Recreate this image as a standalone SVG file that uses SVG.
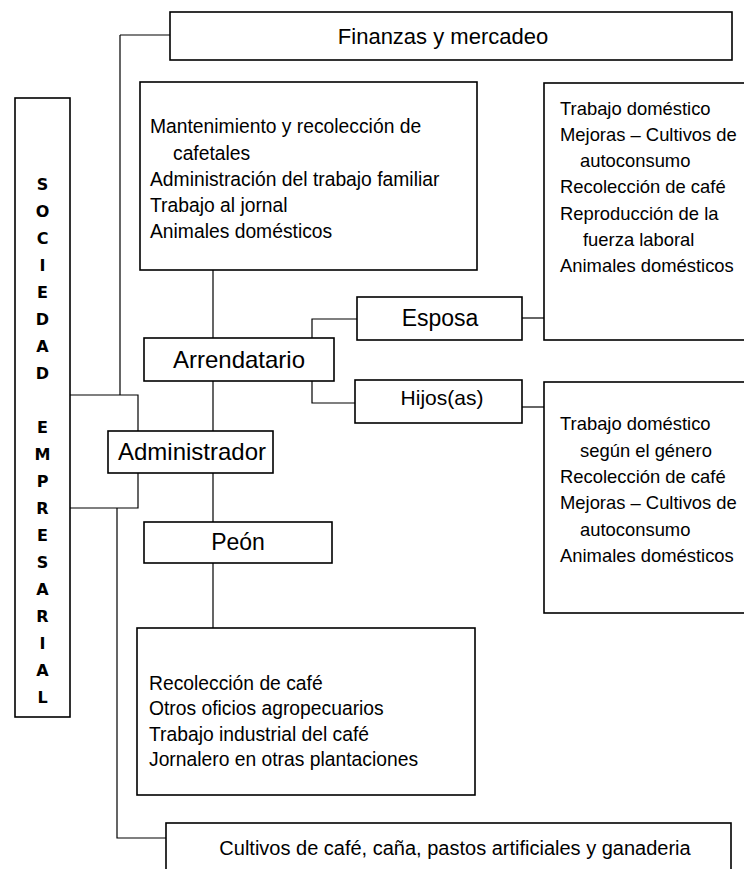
<svg xmlns="http://www.w3.org/2000/svg" width="744" height="869" viewBox="0 0 744 869">
<style>
.box{fill:#fff;stroke:#000;stroke-width:1.6}
.conn{fill:none;stroke:#000;stroke-width:1.2}
.lbl{font-family:"Liberation Sans",Arial,sans-serif;font-size:23px;fill:#000;text-anchor:middle}
.txt{font-family:"Liberation Sans",Arial,sans-serif;font-size:19.3px;fill:#000}
.txr{font-family:"Liberation Sans",Arial,sans-serif;font-size:18.4px;fill:#000}
.vert{font-family:"DejaVu Sans",sans-serif;font-weight:bold;font-size:16px;fill:#000;text-anchor:middle}
</style>
<rect width="744" height="869" fill="#fff"/>
<g id="connectors">
<path class="conn" d="M120,35 H170 M120,35 V395"/>
<path class="conn" d="M70,395 H138 V431"/>
<path class="conn" d="M138,473 V508 H70"/>
<path class="conn" d="M117,508 V838 H166"/>
<path class="conn" d="M213,270 V338 M213,381 V431 M213,473 V522 M213,563 V628"/>
<path class="conn" d="M357,319 H312 V338"/>
<path class="conn" d="M312,381 V403 H355"/>
<path class="conn" d="M522,318 H544"/>
<path class="conn" d="M522,407 H544"/>
</g>
<g id="sociedad">
<rect class="box" x="15" y="98" width="55" height="619"/>
<text class="vert" x="42.5" y="190">S</text>
<text class="vert" x="42.5" y="217">O</text>
<text class="vert" x="42.5" y="244">C</text>
<text class="vert" x="42.5" y="271">I</text>
<text class="vert" x="42.5" y="298">E</text>
<text class="vert" x="42.5" y="325">D</text>
<text class="vert" x="42.5" y="352">A</text>
<text class="vert" x="42.5" y="379">D</text>
<text class="vert" x="42.5" y="433">E</text>
<text class="vert" x="42.5" y="460">M</text>
<text class="vert" x="42.5" y="487">P</text>
<text class="vert" x="42.5" y="514">R</text>
<text class="vert" x="42.5" y="541">E</text>
<text class="vert" x="42.5" y="568">S</text>
<text class="vert" x="42.5" y="595">A</text>
<text class="vert" x="42.5" y="622">R</text>
<text class="vert" x="42.5" y="649">I</text>
<text class="vert" x="42.5" y="676">A</text>
<text class="vert" x="42.5" y="703">L</text>
</g>
<g id="finanzas">
<rect class="box" x="170" y="12" width="562" height="48"/>
<text class="lbl" x="443" y="44" style="font-size:22px">Finanzas y mercadeo</text>
</g>
<g id="arrendatario-tareas">
<rect class="box" x="140" y="82" width="337" height="188"/>
<text class="txt" x="150" y="133">Mantenimiento y recolección de</text>
<text class="txt" x="173" y="160">cafetales</text>
<text class="txt" x="150" y="186">Administración del trabajo familiar</text>
<text class="txt" x="150" y="212">Trabajo al jornal</text>
<text class="txt" x="150" y="238">Animales domésticos</text>
</g>
<g id="esposa-tareas">
<rect class="box" x="544" y="83" width="210" height="257"/>
<text class="txr" x="560" y="115">Trabajo doméstico</text>
<text class="txr" x="560" y="141">Mejoras – Cultivos de</text>
<text class="txr" x="580" y="167">autoconsumo</text>
<text class="txr" x="560" y="193">Recolección de café</text>
<text class="txr" x="560" y="220">Reproducción  de la</text>
<text class="txr" x="583" y="246">fuerza laboral</text>
<text class="txr" x="560" y="272">Animales domésticos</text>
</g>
<g id="esposa">
<rect class="box" x="357" y="297" width="165" height="43"/>
<text class="lbl" x="440" y="326">Esposa</text>
</g>
<g id="arrendatario">
<rect class="box" x="144" y="338" width="190" height="43"/>
<text class="lbl" x="239" y="368" style="font-size:24px">Arrendatario</text>
</g>
<g id="hijos">
<rect class="box" x="355" y="380" width="167" height="43"/>
<text class="lbl" x="442" y="405" style="font-size:21px">Hijos(as)</text>
</g>
<g id="hijos-tareas">
<rect class="box" x="544" y="382" width="210" height="231"/>
<text class="txr" x="560" y="430">Trabajo doméstico</text>
<text class="txr" x="580" y="457">según el género</text>
<text class="txr" x="560" y="483">Recolección de café</text>
<text class="txr" x="560" y="509">Mejoras – Cultivos de</text>
<text class="txr" x="580" y="536">autoconsumo</text>
<text class="txr" x="560" y="562">Animales domésticos</text>
</g>
<g id="administrador">
<rect class="box" x="108" y="431" width="165" height="42"/>
<text class="lbl" x="192" y="460" style="font-size:24px">Administrador</text>
</g>
<g id="peon">
<rect class="box" x="144" y="522" width="188" height="41"/>
<text class="lbl" x="238" y="550">Peón</text>
</g>
<g id="peon-tareas">
<rect class="box" x="137" y="628" width="338" height="167"/>
<text class="txt" x="149" y="690">Recolección de café</text>
<text class="txt" x="149" y="715">Otros oficios agropecuarios</text>
<text class="txt" x="149" y="741">Trabajo industrial del café</text>
<text class="txt" x="149" y="766">Jornalero en otras plantaciones</text>
</g>
<g id="cultivos">
<rect class="box" x="166" y="823" width="565" height="60"/>
<text class="lbl" x="455" y="855" style="font-size:20px">Cultivos de café, caña, pastos artificiales y ganaderia</text>
</g>
</svg>
